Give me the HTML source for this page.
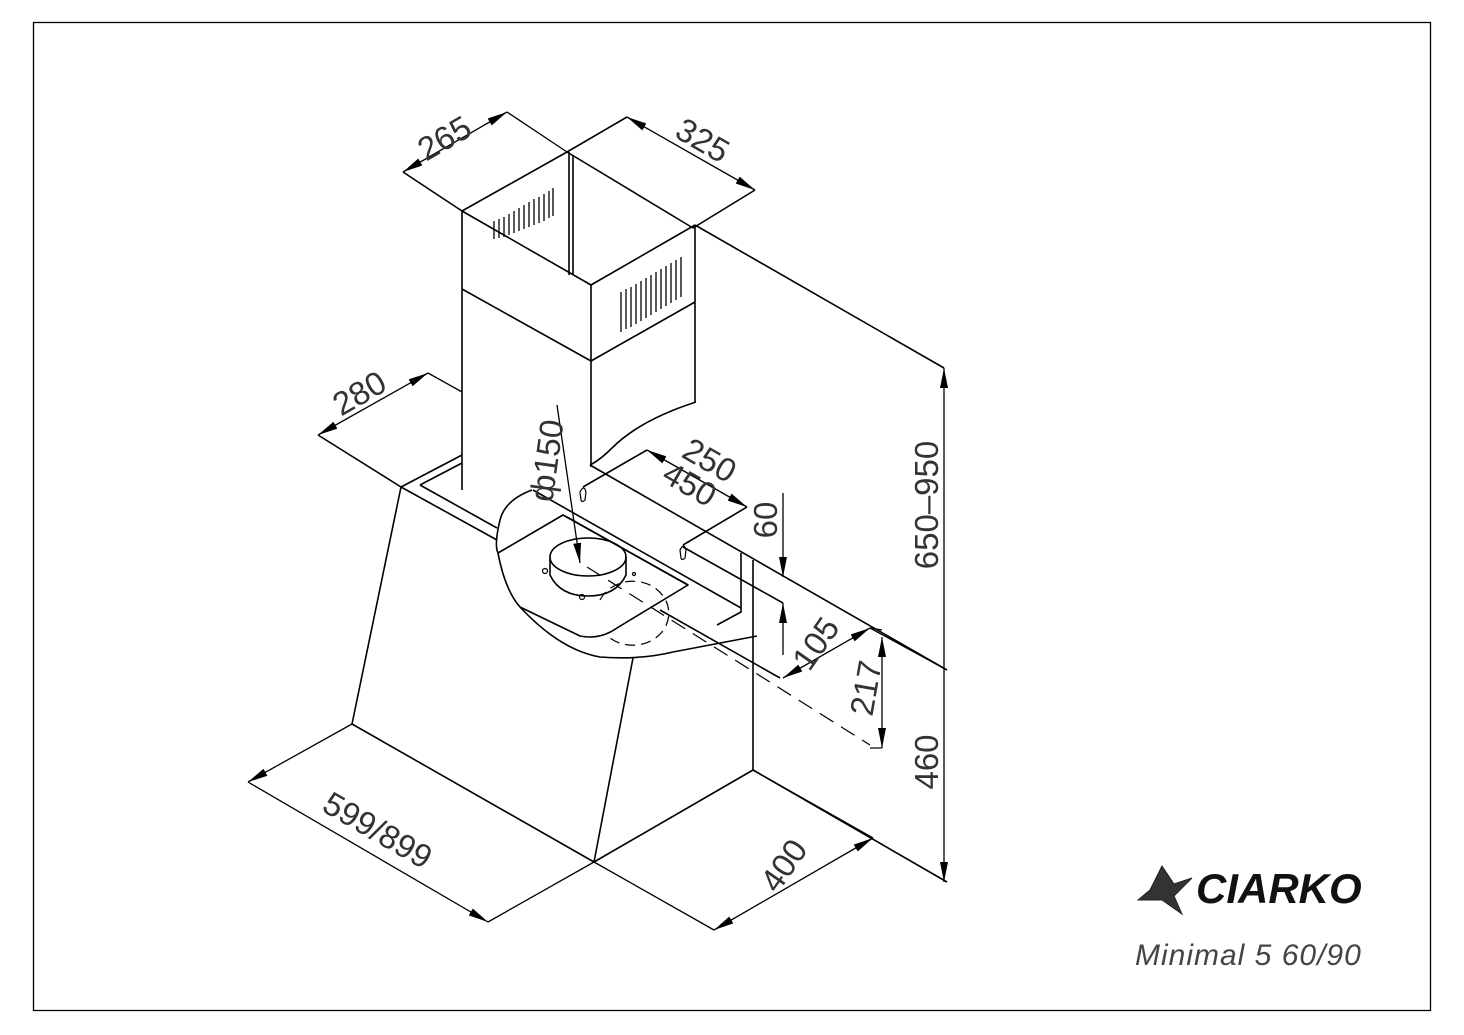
<!DOCTYPE html>
<html><head><meta charset="utf-8"><style>
html,body{margin:0;padding:0;background:#fff}
svg{display:block}
text{font-family:"Liberation Sans",sans-serif;font-size:33px;fill:#333}
</style></head><body>
<svg width="1464" height="1035" viewBox="0 0 1464 1035" xmlns="http://www.w3.org/2000/svg">
<defs>
<marker id="a" viewBox="0 0 20 8" refX="20" refY="4" markerWidth="20" markerHeight="8" markerUnits="userSpaceOnUse" orient="auto-start-reverse"><path d="M0,0 L20,4 L0,8 z" fill="#000"/></marker>
</defs>
<rect x="33.5" y="22.5" width="1397" height="988" fill="none" stroke="#000" stroke-width="1.3"/>
<g stroke="#000" stroke-width="1.6" fill="none" stroke-linejoin="round">
<path d="M403,172 L462,211 L567,152 L627,117"/>
<path d="M567,152 L693,228 L755,190"/>
<path d="M462,211 L462,490"/>
<path d="M462,211 L591,285 L695,225"/>
<path d="M591,285 L591,467"/>
<path d="M695,225 L695,402"/>
<path d="M462,289 L591,361 L695,302"/>
<path d="M569,152 L569,275 M573,155 L573,275"/>
<path d="M696,402 Q640,420 612,448 Q600,460 590,465"/>
<path d="M695,225 L944,368"/>
<path d="M590,465 L947,670"/>
<path d="M753,770 L947,882"/>
<path d="M318,435 L401,487 L352,724 L594,862 L633,658"/>
<path d="M401,487 L462,455 M420,485 L462,463 M401,487 L497,540 M420,485 L497,528"/>
<path d="M594,862 L753,770 L753,560"/>
<path d="M741,553 L741,612 L717,625"/>
<path d="M533,490 L741,608"/>
<path d="M532,490 Q505,500 500,520 Q494,545 498,553 Q505,590 520,607 Q560,650 600,657 Q640,660 673,652 L757,636"/>
<path d="M498,553 L563,515 L688,585 L617,628 Q600,640 580,636 L520,607"/>
<path d="M567,517 L688,585"/>
<path d="M780,678 L660,610"/>
<path d="M583,487 L647,450 M683,545 L747,507 M683,547 L783,603"/>
<path d="M580,492 q4,-8 6,0 l-1,8 q-3,3 -4,0 z M680,550 q4,-8 6,0 l-1,8 q-3,3 -4,0 z" stroke-width="1.2"/>
<ellipse cx="588" cy="557" rx="38" ry="19"/>
<path d="M550,557 L550,575 Q560,596 588,596 Q616,596 626,575 L626,557"/>
</g>
<g stroke="#000" stroke-width="1.2" fill="none">
<path d="M600,600 A36,32 0 1 1 610,638" stroke-dasharray="10,6"/>
<path d="M587,567 L870,745" stroke-dasharray="16,9"/>
<path d="M870,748 L882,748"/>
<circle cx="545" cy="571" r="2.5"/><circle cx="582" cy="597" r="2.5"/><circle cx="634" cy="574" r="1.5"/>
</g>
<g stroke="#000" stroke-width="1.3" fill="none">
<path d="M494,221v18 M499,219v19 M504,217v20 M509,214v21 M514,211v22 M519,208v23 M524,205v24 M529,202v25 M534,199v26 M539,197v26 M544,194v27 M549,191v27 M553,188v28" transform="translate(0,0)"/>
<path d="M621,292v40 M626,289v40 M631,287v40 M636,284v40 M641,281v40 M646,278v40 M651,275v40 M656,272v40 M661,269v40 M666,266v40 M671,263v40 M676,260v40 M681,257v40"/>
</g>
<g stroke="#000" stroke-width="1.3" fill="none">
<path d="M403,172 L507,112" marker-start="url(#a)" marker-end="url(#a)"/>
<path d="M507,112 L567,152"/>
<path d="M627,117 L755,190" marker-start="url(#a)" marker-end="url(#a)"/>
<path d="M318,435 L428,373" marker-start="url(#a)" marker-end="url(#a)"/>
<path d="M428,373 L462,392"/>
<path d="M647,450 L747,507" marker-start="url(#a)" marker-end="url(#a)"/>
<path d="M557,405 L580,563" marker-end="url(#a)"/>
<path d="M783,493 L783,577" marker-end="url(#a)"/>
<path d="M783,603 L783,655" marker-start="url(#a)"/>
<path d="M783,678 L870,628" marker-start="url(#a)" marker-end="url(#a)"/>
<path d="M870,628 L947,670 M870,628 L882,630"/>
<path d="M882,637 L882,748" marker-start="url(#a)" marker-end="url(#a)"/>
<path d="M944,368 L944,882" marker-start="url(#a)" marker-end="url(#a)"/>
<path d="M248,782 L352,724 M248,782 L488,922" marker-start="url(#a)" marker-end="url(#a)"/>
<path d="M488,922 L594,862"/>
<path d="M594,862 L714,930"/>
<path d="M714,930 L873,838" marker-start="url(#a)" marker-end="url(#a)"/>
<path d="M753,770 L873,838"/>
</g>
<text transform="translate(450,148) rotate(-30)" text-anchor="middle">265</text>
<text transform="translate(697,150) rotate(30)" text-anchor="middle">325</text>
<text transform="translate(365,403) rotate(-30)" text-anchor="middle">280</text>
<text transform="translate(558,462) rotate(-82)" text-anchor="middle">ф150</text>
<text transform="translate(704,470) rotate(30)" text-anchor="middle">250</text>
<text transform="translate(684,494) rotate(30)" text-anchor="middle">450</text>
<text transform="translate(777,520) rotate(-90)" text-anchor="middle">60</text>
<text transform="translate(825,650) rotate(-55)" text-anchor="middle">105</text>
<text transform="translate(877,690) rotate(-80)" text-anchor="middle">217</text>
<text transform="translate(938,505) rotate(-90)" text-anchor="middle">650–950</text>
<text transform="translate(938,762) rotate(-90)" text-anchor="middle">460</text>
<text transform="translate(372,840) rotate(30)" text-anchor="middle">599/899</text>
<text transform="translate(793,872) rotate(-55)" text-anchor="middle">400</text>
<g fill="#333" stroke="#222" stroke-width="1">
<path d="M1162,866 L1150,890 L1138,900 L1162,900 L1182,914 L1174,896 L1192,878 L1174,884 Z"/>
</g>
<text x="1196" y="903" style="font-size:42px;font-weight:bold;font-style:italic;fill:#111">CIARKO</text>
<text x="1135" y="965" style="font-size:30px;font-style:italic;fill:#444;letter-spacing:1px">Minimal  5  60/90</text>
</svg>
</body></html>
